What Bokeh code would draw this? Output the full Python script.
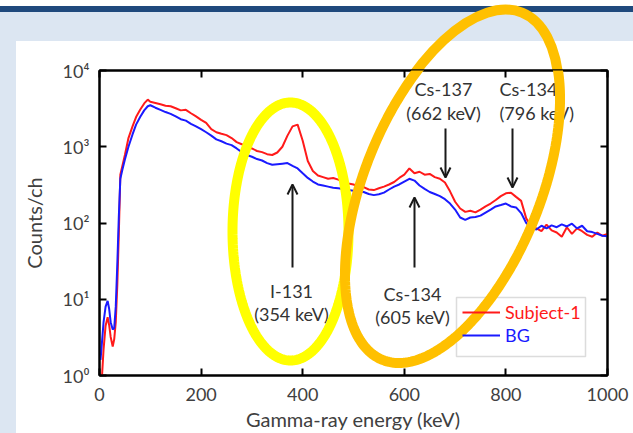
import numpy as np
from bokeh.plotting import figure
from bokeh.models import (Range1d, FixedTicker, LinearAxis, LogAxis, Legend, LegendItem,
                          Label, Arrow, OpenHead, BoxAnnotation, PolyAnnotation)
from bokeh.embed import file_html
from bokeh.resources import INLINE

# ---------------- data ----------------
energy_kev = [2, 5, 8, 12, 16, 19, 22, 26, 29, 32, 35, 38, 41, 45, 50, 57, 65, 72, 80, 88, 95,
              100, 110, 120, 130, 140, 150, 160, 170, 180, 190, 200, 210, 220, 230, 240, 250,
              260, 270, 280, 290, 300, 310, 320, 330, 340, 350, 360, 370, 380, 390, 400, 410,
              420, 430, 440, 450, 460, 470, 480, 490, 500, 510, 520, 530, 540, 550, 560, 570,
              580, 590, 600, 610, 620, 630, 640, 650, 660, 670, 680, 690, 700, 710, 720, 730,
              740, 750, 760, 770, 780, 790, 800, 810, 820, 830, 840, 850, 860, 870, 880, 890,
              900, 910, 920, 930, 940, 950, 960, 970, 980, 990, 1000]

subject1_counts = [1.0, 1.0, 2.2, 4.5, 5.8, 4.6, 3.2, 2.4, 3.0, 5, 15, 70, 430, 560, 780, 1300,
                   1850, 2450, 3050, 3700, 4150,
                   3900, 3750, 3600, 3450, 3400, 3200, 3000, 3050, 2750, 2500, 2250, 2050, 1700,
                   1550, 1480, 1420, 1300, 1150, 1080, 1000, 950, 880, 850, 800, 780, 840, 1000,
                   1400, 1850, 1950, 1200, 650, 480, 420, 400, 380, 390, 370, 360, 330, 320, 300,
                   295, 275, 270, 285, 300, 320, 345, 390, 430, 520, 450, 470, 430, 440, 400, 380,
                   340, 260, 190, 155, 140, 145, 138, 150, 165, 180, 200, 225, 245, 250, 220, 195,
                   115, 90, 85, 78, 95, 80, 75, 66, 88, 72, 85, 78, 70, 66, 75, 68, 72]

bg_counts = [1.6, 2.8, 5, 8, 9.5, 7.5, 5, 4, 4.2, 8, 28, 120, 380, 500, 680, 1000,
             1450, 1950, 2450, 3000, 3400,
             3500, 3250, 3050, 2850, 2700, 2500, 2300, 2200, 2000, 1850, 1700, 1550, 1400,
             1250, 1180, 1100, 1050, 950, 850, 780, 740, 690, 660, 610, 580, 590, 600,
             610, 560, 520, 450, 390, 350, 320, 310, 300, 290, 285, 280, 270, 265, 258,
             255, 240, 232, 238, 250, 275, 300, 320, 350, 380, 360, 310, 280, 255, 240, 225,
             205, 180, 150, 118, 110, 118, 120, 125, 137, 150, 165, 172, 180, 165, 160, 135,
             100, 87, 82, 92, 85, 93, 88, 96, 90, 98, 85, 92, 78, 76, 72, 68, 67]

x_ticks = [0, 200, 400, 600, 800, 1000]
y_ticks = [1, 10, 100, 1000, 10000]
y_tick_labels = ["10\u2070", "10\u00b9", "10\u00b2", "10\u00b3", "10\u2074"]

peak_names = ["I-131", "Cs-134", "Cs-137", "Cs-134"]
peak_energies = ["(354 keV)", "(605 keV)", "(662 keV)", "(796 keV)"]

FONT = "Lato"
TXT = "#404040"

# highlight ellipse geometry (canvas pixels): centre, semi-axes, tilt
OR_CX, OR_CY, OR_A, OR_B, OR_TILT = 452, 186, 187, 88, 22
YE_CX, YE_CY, YE_A, YE_B = 290, 231, 129, 58

# slide background (white strip, dark bar, light-blue band, light-blue left strip) and the
# part of the orange ellipse that lies in the slide margin above the chart
orange_svg = ("url(\"data:image/svg+xml;utf8,<svg xmlns='http://www.w3.org/2000/svg' "
              "width='633' height='433'><ellipse cx='%d' cy='%d' rx='%d' ry='%d' "
              "transform='rotate(%d %d %d)' fill='none' stroke='%%23ffc000' "
              "stroke-width='10'/></svg>\")"
              % (OR_CX, OR_CY, OR_B, OR_A, OR_TILT, OR_CX, OR_CY))
slide_bg = (orange_svg + ", "
            "linear-gradient(to bottom, #ffffff 0px, #ffffff 6px, #1f497d 6px, #1f497d 12px, "
            "#dce6f2 12px, #dce6f2 41px, rgba(255,255,255,0) 41px), "
            "linear-gradient(to right, #dce6f2 0px, #dce6f2 16px, #ffffff 16px)")

# ---------------- figure ----------------
p = figure(width=633, height=433, output_backend="svg", toolbar_location=None,
           x_range=Range1d(0, 1000), y_range=Range1d(1, 10000), y_axis_type="log",
           min_border_left=99, min_border_right=26, min_border_top=70, min_border_bottom=56,
           border_fill_color=None, background_fill_color="white",
           styles={"background-image": slide_bg, "background-repeat": "no-repeat"})
p.xgrid.visible = False
p.ygrid.visible = False
p.outline_line_color = "black"
p.outline_line_width = 2

# axes
p.xaxis.ticker = FixedTicker(ticks=x_ticks)
p.yaxis.ticker = FixedTicker(ticks=y_ticks)
p.yaxis.major_label_overrides = dict(zip(y_ticks, y_tick_labels))
p.xaxis.axis_label = "Gamma-ray energy (keV)"
p.yaxis.axis_label = "Counts/ch"
for ax in (p.xaxis[0], p.yaxis[0]):
    ax.major_label_text_font = FONT
    ax.major_label_text_font_size = "18px"
    ax.major_label_text_color = TXT
    ax.axis_label_text_font = FONT
    ax.axis_label_text_font_size = "20px"
    ax.axis_label_text_font_style = "normal"
    ax.axis_label_text_color = TXT
    ax.major_tick_in = 7
    ax.major_tick_out = 0
    ax.minor_tick_line_color = None
    ax.axis_line_width = 2
    ax.major_tick_line_width = 2
p.xaxis.major_label_standoff = 12
p.xaxis.axis_label_standoff = 3
p.yaxis.major_label_standoff = 10
p.yaxis.axis_label_standoff = 14

# mirrored tick marks on top and right (labels not drawn)
top_ax = LinearAxis(ticker=FixedTicker(ticks=x_ticks), major_label_text_font_size="8px",
                    major_label_text_color=None, major_label_standoff=0,
                    major_tick_in=7, major_tick_out=0, minor_tick_line_color=None,
                    axis_line_width=2, major_tick_line_width=2)
right_ax = LogAxis(ticker=FixedTicker(ticks=y_ticks), major_label_text_font_size="8px",
                   major_label_text_color=None, major_label_standoff=0,
                   major_label_overrides=dict(zip(y_ticks, y_tick_labels)),
                   major_tick_in=7, major_tick_out=0, minor_tick_line_color=None,
                   axis_line_width=2, major_tick_line_width=2)
p.add_layout(top_ax, "above")
p.add_layout(right_ax, "right")

# spectra
r_sub = p.line(energy_kev, subject1_counts, line_color="#ff1a1a", line_width=2)
r_bg = p.line(energy_kev, bg_counts, line_color="#1a1aff", line_width=2)

# legend box + two one-item legends (each label in its own colour)
p.add_layout(BoxAnnotation(left=456, right=585, top=297, bottom=356, left_units="canvas",
                           right_units="canvas", top_units="canvas", bottom_units="canvas",
                           fill_color="white", fill_alpha=1, line_color="#8c8c8c",
                           line_width=1.5))
for item_label, rend, col, vy in (("Subject-1", r_sub, "#ff1a1a", 52), ("BG", r_bg, "#1a1aff", 29)):
    lg = Legend(items=[LegendItem(label=item_label, renderers=[rend])], location=(363, vy),
                padding=0, margin=0, glyph_width=38, glyph_height=16, label_height=16,
                label_standoff=5, border_line_alpha=0, background_fill_alpha=0,
                label_text_color=col, label_text_font=FONT, label_text_font_size="18px")
    p.add_layout(lg, "center")

# peak annotations (canvas pixel positions)
label_pos = [(291, 290, 313, "center"), (412, 293, 316, "center"),
             (443, 88, 112, "center"), (499, 88, 112, "left")]
for (lx, y1, y2, al), nm, en in zip(label_pos, peak_names, peak_energies):
    for yy, tx in ((y1, nm), (y2, en)):
        p.add_layout(Label(x=lx, y=yy, x_units="canvas", y_units="canvas", text=tx,
                           text_align=al, text_baseline="middle", text_font=FONT,
                           text_font_size="18px", text_color="#333333"))

arrows = [(292, 267, 184), (414, 267, 197), (445, 128, 177), (512, 128, 187)]
for ax_, ys, ye in arrows:
    p.add_layout(Arrow(end=OpenHead(size=10, line_width=2, line_color="#1a1a1a"),
                       x_start=ax_, y_start=ys, x_end=ax_, y_end=ye,
                       start_units="canvas", end_units="canvas",
                       line_width=2, line_color="#1a1a1a"))

# highlight ellipses (decoration outlines in canvas pixels)
t = np.linspace(0, 2 * np.pi, 241)


def ellipse(cx, cy, a, b, tilt_deg):
    th = np.radians(tilt_deg)
    ux, uy = np.sin(th), -np.cos(th)
    vx, vy = np.cos(th), np.sin(th)
    xs = cx + a * np.cos(t) * ux + b * np.sin(t) * vx
    ys = cy + a * np.cos(t) * uy + b * np.sin(t) * vy
    return list(xs), list(ys)


ex, ey = ellipse(YE_CX, YE_CY, YE_A, YE_B, 0)
p.add_layout(PolyAnnotation(xs=ex, ys=ey, xs_units="canvas", ys_units="canvas",
                            fill_alpha=0, line_color="#ffff00", line_alpha=1, line_width=10))
ex, ey = ellipse(OR_CX, OR_CY, OR_A, OR_B, OR_TILT)
p.add_layout(PolyAnnotation(xs=ex, ys=ey, xs_units="canvas", ys_units="canvas",
                            fill_alpha=0, line_color="#ffc000", line_alpha=1, line_width=10))

open("out.html", "w").write(file_html(p, INLINE))
